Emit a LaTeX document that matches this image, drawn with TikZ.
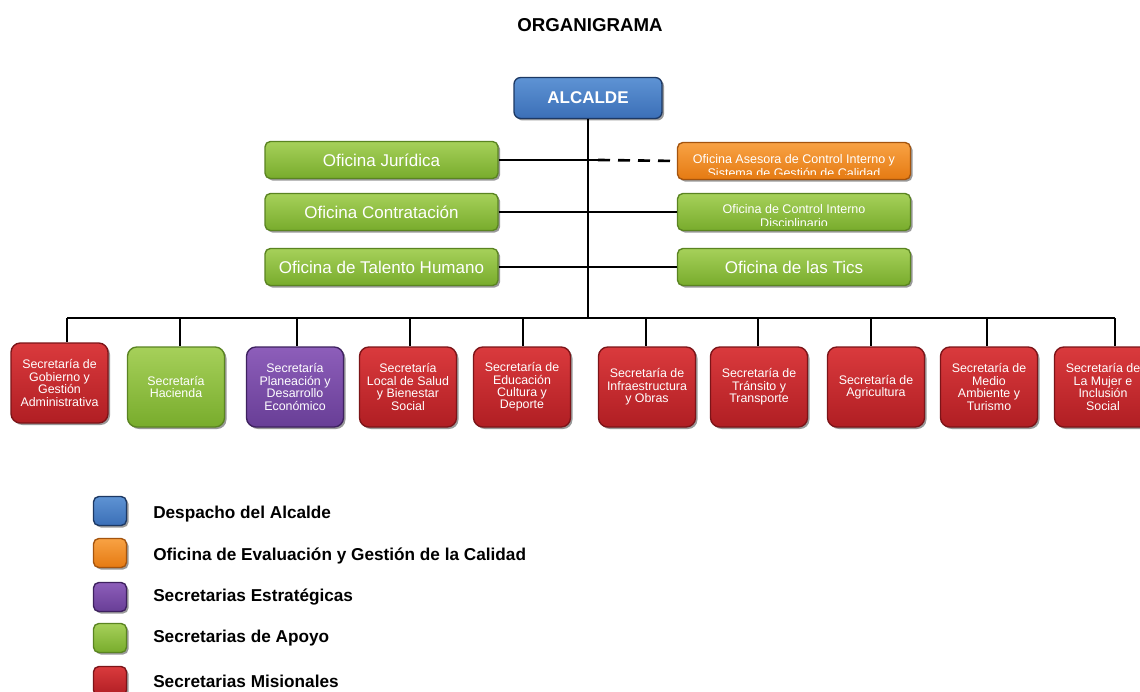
\documentclass[tikz,border=0pt]{standalone}
\usepackage{fontspec}
\setmainfont{Liberation Sans}
\usetikzlibrary{shadows}
\definecolor{gTop}{HTML}{A6D05A}\definecolor{gBot}{HTML}{78AC2C}\definecolor{gBrd}{HTML}{5A8421}
\definecolor{rTop}{HTML}{DA3A3D}\definecolor{rBot}{HTML}{B01E23}\definecolor{rBrd}{HTML}{7C1418}
\definecolor{bTop}{HTML}{5E93D4}\definecolor{bBot}{HTML}{3B6FB7}\definecolor{bBrd}{HTML}{1C3863}
\definecolor{oTop}{HTML}{F8A244}\definecolor{oBot}{HTML}{E57A12}\definecolor{oBrd}{HTML}{A4540E}
\definecolor{pTop}{HTML}{8D5EBA}\definecolor{pBot}{HTML}{683E96}\definecolor{pBrd}{HTML}{3E215F}
\begin{document}
\begin{tikzpicture}[x=0.75pt,y=-0.75pt,
  shad/.style={drop shadow={shadow xshift=1.5pt,shadow yshift=-1.5pt,opacity=0.4,fill=black}},
  green/.style={top color=gTop,bottom color=gBot,draw=gBrd},
  red/.style={top color=rTop,bottom color=rBot,draw=rBrd},
  blue/.style={top color=bTop,bottom color=bBot,draw=bBrd},
  orange/.style={top color=oTop,bottom color=oBot,draw=oBrd},
  purple/.style={top color=pTop,bottom color=pBot,draw=pBrd},
  base/.style={rectangle,inner sep=0pt,align=center,text=white,line width=1pt,shad},
  secbox/.style={base,minimum width=72.75pt,minimum height=60pt,rounded corners=7pt,
    font=\fontsize{9.3pt}{9.3pt}\selectfont},
  offbox/.style={base,green,minimum width=174.75pt,minimum height=27.75pt,rounded corners=4pt,
    font=\fontsize{12.75pt}{14pt}\selectfont},
  smalltxt/.style={text=white,align=center,inner sep=0pt,font=\fontsize{9.4pt}{10.5pt}\selectfont},
  legbox/.style={base,minimum width=24.75pt,minimum height=21.75pt,rounded corners=4pt},
  legtxt/.style={anchor=west,inner sep=0pt,font=\bfseries\fontsize{12.9pt}{14pt}\selectfont},
  conn/.style={line width=2pt,black}]
\clip (0,0) rectangle (1140,692);
\fill[white] (0,0) rectangle (1140,692);

\node[font=\bfseries\fontsize{14pt}{16pt}\selectfont] (title) at (590,25) {ORGANIGRAMA};

\node[base,blue,minimum width=111pt,minimum height=30.75pt,rounded corners=5pt,
  font=\bfseries\fontsize{12.75pt}{14pt}\selectfont] (alc) at (588,98) {ALCALDE};

% offices
\node[offbox] (oj) at (381.5,160) {Oficina Jurídica};
\node[offbox] (oc) at (381.5,212) {Oficina Contratación};
\node[offbox] (oth) at (381.5,267) {Oficina de Talento Humano};
\node[offbox,orange] (oac) at (794,161) {};
\node[offbox] (oci) at (794,212) {};
\node[offbox] (otic) at (794,267) {Oficina de las Tics};

\begin{scope}
\clip[rounded corners=3pt] ([shift={(1pt,4pt)}]oac.south west) rectangle ([shift={(-1pt,-1pt)}]oac.north east);
\node[smalltxt] (oact) at ([yshift=-3.5pt]oac.center) {Oficina Asesora de Control Interno y\\Sistema de Gestión de Calidad};
\end{scope}
\begin{scope}
\clip[rounded corners=3pt] ([shift={(1pt,4pt)}]oci.south west) rectangle ([shift={(-1pt,-1pt)}]oci.north east);
\node[smalltxt] (ocit) at ([yshift=-4pt]oci.center) {Oficina de Control Interno\\Disciplinario};
\end{scope}

% bus and taps
\coordinate (bus) at (588,318);
\coordinate (dj) at (598,160);
\foreach \i/\x in {1/67,2/180,3/297,4/410,5/523,6/646,7/758,8/871,9/987,10/1115}
  \coordinate (t\i) at (\x,318);

% secretarias
\node[secbox,red] (s1) at (59.5,383) {Secretaría de\\Gobierno y\\Gestión\\Administrativa};
\node[secbox,green] (s2) at (176,387) {Secretaría\\Hacienda};
\node[secbox,purple] (s3) at (295,387) {Secretaría\\Planeación y\\Desarrollo\\Económico};
\node[secbox,red] (s4) at (408,387) {Secretaría\\Local de Salud\\y Bienestar\\Social};
\node[secbox,red] (s5) at (522,387) {Secretaría de\\Educación\\Cultura y\\Deporte};
\node[secbox,red] (s6) at (647,387) {Secretaría de\\Infraestructura\\y Obras};
\node[secbox,red] (s7) at (759,387) {Secretaría de\\Tránsito y\\Transporte};
\node[secbox,red] (s8) at (876,387) {Secretaría de\\Agricultura};
\node[secbox,red] (s9) at (989,387) {Secretaría de\\Medio\\Ambiente y\\Turismo};
\node[secbox,red] (s10) at (1103,387) {Secretaría de\\La Mujer e\\Inclusión\\Social};

% connectors
\draw[conn] (alc.south) -- (bus);
\draw[conn] (oj.east) -- (dj);
\draw[conn,dash pattern=on 9pt off 6pt] (dj) -- (oac.west);
\draw[conn] (oc.east) -- (oci.west);
\draw[conn] (oth.east) -- (otic.west);
\draw[conn] (t1) -- (t10);
\foreach \i in {1,...,10}
  \draw[conn] (t\i) -- (t\i |- s\i.north);

% legend
\node[legbox,blue] (l1) at (110,511) {};
\node[legbox,orange] (l2) at (110,553) {};
\node[legbox,purple] (l3) at (110,597) {};
\node[legbox,green] (l4) at (110,638) {};
\node[legbox,red] (l5) at (110,681) {};
\node[legtxt] (lt1) at (153,514) {Despacho del Alcalde};
\node[legtxt] (lt2) at (153,556) {Oficina de Evaluación y Gestión de la Calidad};
\node[legtxt] (lt3) at (153,597) {Secretarias Estratégicas};
\node[legtxt] (lt4) at (153,638) {Secretarias de Apoyo};
\node[legtxt] (lt5) at (153,681) {Secretarias Misionales};
\end{tikzpicture}
\end{document}
